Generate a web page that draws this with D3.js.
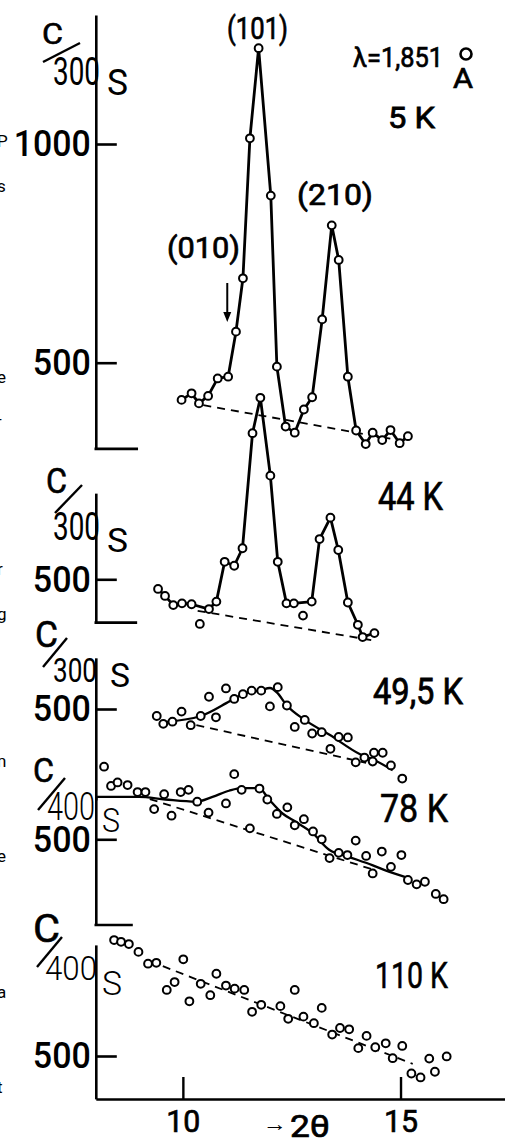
<!DOCTYPE html>
<html>
<head>
<meta charset="utf-8">
<script src="https://cdn.jsdelivr.net/npm/d3@7"></script>
<style>
  html, body { margin: 0; padding: 0; background: #fff; }
  svg { display: block; }
  text { font-family: Roboto, "Liberation Sans", sans-serif; fill: #000; }
</style>
</head>
<body>
<svg id="chart" width="505" height="1140"></svg>
<script>
// ---- Neutron diffraction scans: counts vs 2θ (degrees) at several temperatures ----

// 5 K
const theta5K  = [9.97, 10.20, 10.37, 10.58, 10.80, 11.04, 11.22, 11.38, 11.54, 11.74, 12.02, 12.16, 12.36, 12.57,
                  12.78, 12.97, 13.20, 13.42, 13.58, 13.79, 13.98, 14.20, 14.36, 14.58, 14.77, 14.98, 15.17];
const counts5K = [415, 430, 407, 424, 464, 468, 571, 693, 1013, 1219, 882, 491, 354, 340,
                  393, 421, 599, 814, 735, 468, 345, 314, 340, 323, 346, 316, 332];
const base5K   = [[10.47, 403], [15.17, 319]];

// 44 K (points on the drawn curve, plus two stray points off it)
const theta44K  = [9.43, 9.59, 9.78, 9.98, 10.20, 10.60, 10.77, 10.96, 11.18, 11.37, 11.60, 11.78, 12.01,
                   12.18, 12.38, 12.55, 12.96, 13.14, 13.39, 13.57, 13.79, 14.02, 14.13, 14.40];
const counts44K = [478, 462, 441, 445, 443, 432, 449, 540, 531, 571, 834, 915, 737,
                   540, 445, 445, 449, 592, 641, 567, 447, 396, 368, 377];
const strayTheta44K  = [10.39, 12.76];
const strayCounts44K = [398, 417];
const base44K = [[10.34, 428], [14.33, 361]];

// 49,5 K
const theta49K  = [9.40, 9.55, 9.76, 9.97, 10.18, 10.41, 10.60, 10.76, 10.99, 11.18, 11.38, 11.58, 11.80, 12.00, 12.18,
                   12.39, 12.57, 12.80, 12.97, 13.19, 13.39, 13.58, 13.79, 13.97, 14.17, 14.36, 14.39, 14.59, 14.78, 15.04];
const counts49K = [484, 466, 471, 494, 463, 484, 528, 481, 547, 523, 534, 542, 542, 506, 550,
                   508, 459, 475, 444, 447, 409, 436, 435, 378, 389, 380, 400, 400, 371, 341];
const fitTheta49K  = [9.55, 10.41, 11.08, 11.38, 11.79, 12.00, 12.17, 12.38, 12.80, 13.37, 14.06, 14.44, 14.82];
const fitCounts49K = [470, 484, 518, 534, 543, 548, 537, 509, 475, 441, 397, 381, 360];
const base49K = [[10.31, 463], [14.21, 377]];

// 78 K
const theta78K  = [8.19, 8.35, 8.50, 8.73, 8.96, 9.14, 9.34, 9.57, 9.74, 9.95, 10.13, 10.33, 10.59, 10.99, 11.18,
                   11.35, 11.54, 11.76, 11.94, 12.16, 12.40, 12.57, 12.78, 12.99, 13.19, 13.37, 13.58, 13.78, 13.97,
                   14.21, 14.36, 14.57, 14.78, 15.02, 15.17, 15.37, 15.56, 15.81, 15.99];
const counts78K = [666, 622, 630, 624, 608, 608, 569, 603, 554, 608, 613, 586, 561, 582, 649,
                   613, 525, 616, 591, 558, 573, 532, 546, 518, 500, 457, 469, 464, 497,
                   462, 422, 472, 437, 464, 407, 397, 403, 375, 363];
const fitTheta78K  = [8.0, 8.99, 9.6, 10.30, 10.68, 11.06, 11.35, 11.75, 11.98, 12.29, 12.59, 12.97, 13.36, 13.81, 14.35, 14.73, 15.19];
const fitCounts78K = [597, 597, 591, 586, 597, 611, 617, 617, 591, 559, 540, 515, 476, 460, 441, 426, 411];
const base78K = [[9.24, 592], [14.33, 432]];

// 110 K
const theta110K  = [8.42, 8.58, 8.76, 8.98, 9.20, 9.39, 9.63, 9.81, 10.01, 10.15, 10.41, 10.63, 10.77, 10.99, 11.19,
                    11.41, 11.59, 11.80, 12.24, 12.42, 12.57, 12.77, 13.01, 13.19, 13.43, 13.61, 13.82, 14.03, 14.22,
                    14.42, 14.66, 14.82, 15.04, 15.25, 15.46, 15.66, 15.79, 16.06];
const counts110K = [765, 761, 756, 738, 711, 713, 651, 669, 721, 625, 665, 639, 688, 661, 654,
                    651, 601, 617, 614, 585, 651, 590, 575, 610, 549, 564, 561, 518, 546,
                    520, 529, 495, 523, 460, 451, 494, 464, 499];
const base110K = [[9.24, 717], [15.28, 482]];

// axis ticks
const xTicks = [10, 15];
const yTicks5K = [500, 1000];
const yTicks = [500];
const mark010 = 11.02;   // position of the (010) reflection

// ---- layout ----
const svg = d3.select("#chart");
const PX_PER_COUNT = 218.7 / 500;
const FONT = "Roboto, 'Liberation Sans', sans-serif";

const x = d3.scaleLinear().domain([8, 17.4]).range([95.8, 505]);

function yScale(y500, lo, hi) {
  return d3.scaleLinear().domain([lo, hi])
    .range([y500 + (500 - lo) * PX_PER_COUNT, y500 - (hi - 500) * PX_PER_COUNT]);
}

const y5K   = yScale(362.7, 303, 1295);
const y44K  = yScale(579.3, 401, 697);
const y49K  = yScale(709, 292, 617);
const y78K  = yScale(839.3, 304, 597);
const y110K = yScale(1056, 402, 754);

const zip = (a, b) => a.map((v, i) => [v, b[i]]);

// text placed by left edge and baseline; "heavy" thickens the strokes a little
function txt(str, left, baseline, size, width, opts = {}) {
  const t = svg.append("text")
    .attr("x", left).attr("y", baseline)
    .attr("font-size", size)
    .attr("font-weight", opts.weight || 400)
    .text(str);
  if (width) t.attr("textLength", width).attr("lengthAdjust", "spacingAndGlyphs");
  if (opts.heavy) t.attr("stroke", "#000").attr("stroke-width", opts.heavy);
  return t;
}

function slash(x1, y1, x2, y2) {
  svg.append("line").attr("x1", x1).attr("y1", y1).attr("x2", x2).attr("y2", y2)
    .attr("stroke", "#000").attr("stroke-width", 2.4);
}

function yAxis(y, ticks, stubTo) {
  const g = svg.append("g").attr("transform", `translate(${x(8)},0)`)
    .call(d3.axisLeft(y).tickValues(ticks).tickFormat(d3.format("d"))
      .tickSizeInner(-21).tickSizeOuter(0).tickPadding(5));
  g.select(".domain").attr("stroke", "#000").attr("stroke-width", 2.6);
  g.selectAll(".tick line").attr("stroke", "#000").attr("stroke-width", 2.6);
  g.selectAll(".tick text")
    .attr("font-family", FONT)
    .attr("font-size", 37).attr("font-weight", 500).attr("fill", "#000")
    .attr("textLength", d => d >= 1000 ? 77 : 58).attr("lengthAdjust", "spacingAndGlyphs");
  if (stubTo) {
    svg.append("line")
      .attr("x1", x(8) - 1.3).attr("x2", x(stubTo))
      .attr("y1", y(y.domain()[0])).attr("y2", y(y.domain()[0]))
      .attr("stroke", "#000").attr("stroke-width", 2.6);
  }
}

function dashed(y, seg) {
  svg.append("path")
    .attr("d", d3.line().x(d => x(d[0])).y(d => y(d[1]))(seg))
    .attr("fill", "none").attr("stroke", "#000").attr("stroke-width", 1.8)
    .attr("stroke-dasharray", "8,6");
}

function solid(y, pts, curve, w) {
  svg.append("path")
    .attr("d", d3.line().x(d => x(d[0])).y(d => y(d[1])).curve(curve)(pts))
    .attr("fill", "none").attr("stroke", "#000").attr("stroke-width", w)
    .attr("stroke-linejoin", "round");
}

function dots(y, pts) {
  svg.append("g").selectAll("circle").data(pts).join("circle")
    .attr("cx", d => x(d[0])).attr("cy", d => y(d[1])).attr("r", 3.9)
    .attr("fill", "#fff").attr("stroke", "#000").attr("stroke-width", 2);
}

// ---- axes ----
yAxis(y5K, yTicks5K, 8.97);
yAxis(y44K, yTicks, 8.95);
yAxis(y49K, yTicks, null);
yAxis(y78K, yTicks, 8.85);
yAxis(y110K, yTicks, null);

const xg = svg.append("g").attr("transform", "translate(0,1099)")
  .call(d3.axisBottom(x).tickValues(xTicks).tickFormat(d3.format("d"))
    .tickSizeInner(-22).tickSizeOuter(0).tickPadding(11));
xg.select(".domain").attr("stroke", "#000").attr("stroke-width", 2.6);
xg.selectAll(".tick line").attr("stroke", "#000").attr("stroke-width", 2.4);
xg.selectAll(".tick text")
  .attr("font-family", FONT)
  .attr("font-size", 31).attr("font-weight", 400).attr("fill", "#000")
  .attr("stroke", "#000").attr("stroke-width", 0.7)
  .attr("textLength", 34).attr("lengthAdjust", "spacingAndGlyphs");

// ---- baselines (dashed) ----
dashed(y5K, base5K);
dashed(y44K, base44K);
dashed(y49K, base49K);
dashed(y78K, base78K);
dashed(y110K, base110K);

// ---- data curves ----
solid(y5K, zip(theta5K, counts5K), d3.curveLinear, 2.8);
solid(y44K, zip(theta44K, counts44K), d3.curveLinear, 2.8);
solid(y49K, zip(fitTheta49K, fitCounts49K), d3.curveMonotoneX, 2.3);
solid(y78K, zip(fitTheta78K, fitCounts78K), d3.curveMonotoneX, 2.3);

dots(y5K, zip(theta5K, counts5K));
dots(y44K, zip(theta44K, counts44K));
dots(y44K, zip(strayTheta44K, strayCounts44K));
dots(y49K, zip(theta49K, counts49K));
dots(y78K, zip(theta78K, counts78K));
dots(y110K, zip(theta110K, counts110K));

// ---- y-axis unit labels: counts per time ----
txt("C", 42, 44, 30, 21, { heavy: 0.6 });   slash(43, 62, 80, 43);
txt("300", 53, 85, 38, 47); txt("S", 107, 95, 37, 21);

txt("C", 46, 493, 35, 21, { heavy: 0.6 });  slash(55, 513, 82, 485);
txt("300", 53, 540, 39, 47); txt("S", 107, 552, 34, 21);

txt("C", 35, 647, 37, 23, { heavy: 0.6 });  slash(43, 667, 67, 638);
txt("300", 53, 682, 34, 44); txt("S", 110, 687, 34, 20);

txt("C", 33, 782, 34, 21, { heavy: 0.6 });  slash(38, 810, 65, 778);
txt("400", 47, 820, 38, 48, { weight: 300 }); txt("S", 102, 832, 34, 18, { weight: 300 });

txt("C", 33, 942, 38, 27, { heavy: 0.6 });  slash(37, 967, 62, 937);
txt("400", 45, 980, 33, 52, { weight: 300 }); txt("S", 102, 995, 33, 20, { weight: 300 });

// ---- reflection labels and temperatures ----
txt("(101)", 227, 39, 31, 61, { heavy: 0.7 });
txt("(210)", 297, 205, 29, 76, { heavy: 0.7 });
txt("(010)", 167, 258, 29, 73, { heavy: 0.7 });
svg.append("line").attr("x1", x(mark010)).attr("x2", x(mark010)).attr("y1", 283).attr("y2", 318)
  .attr("stroke", "#000").attr("stroke-width", 2);
svg.append("path")
  .attr("d", `M${x(mark010) - 4},312 L${x(mark010)},322 L${x(mark010) + 4},312 Z`)
  .attr("fill", "#000");

txt("λ=1,851", 353, 67, 28, 90, { heavy: 0.7 });
svg.append("circle").attr("cx", 466).attr("cy", 54).attr("r", 5.5)
  .attr("fill", "none").attr("stroke", "#000").attr("stroke-width", 2.6);
txt("A", 453, 88, 28, 20, { heavy: 0.7 });

txt("5 K", 388, 128, 30, 47, { heavy: 0.8 });
txt("44 K", 378, 510, 38, 65, { heavy: 0.7 });
txt("49,5 K", 373, 704, 37, 90, { heavy: 0.8 });
txt("78 K", 380, 822, 38, 68, { heavy: 0.6 });
txt("110 K", 375, 988, 37, 73, { heavy: 0.6 });

// x-axis caption
txt("→", 263, 1131, 22, 24);
txt("2θ", 290, 1137, 32, 40, { heavy: 0.7 });

// ---- text cut off at the left margin (neighbouring column) ----
const marginChars = [["P", 147], ["s", 192], ["e", 383], ["-", 425], ["r", 575], ["g", 620],
                     ["n", 767], ["e", 862], ["a", 998], ["t", 1093]];
svg.append("g").selectAll("text").data(marginChars).join("text")
  .attr("x", -3).attr("y", d => d[1])
  .attr("font-family", "'Liberation Mono', monospace").attr("font-size", 17)
  .text(d => d[0]);
</script>
</body>
</html>
